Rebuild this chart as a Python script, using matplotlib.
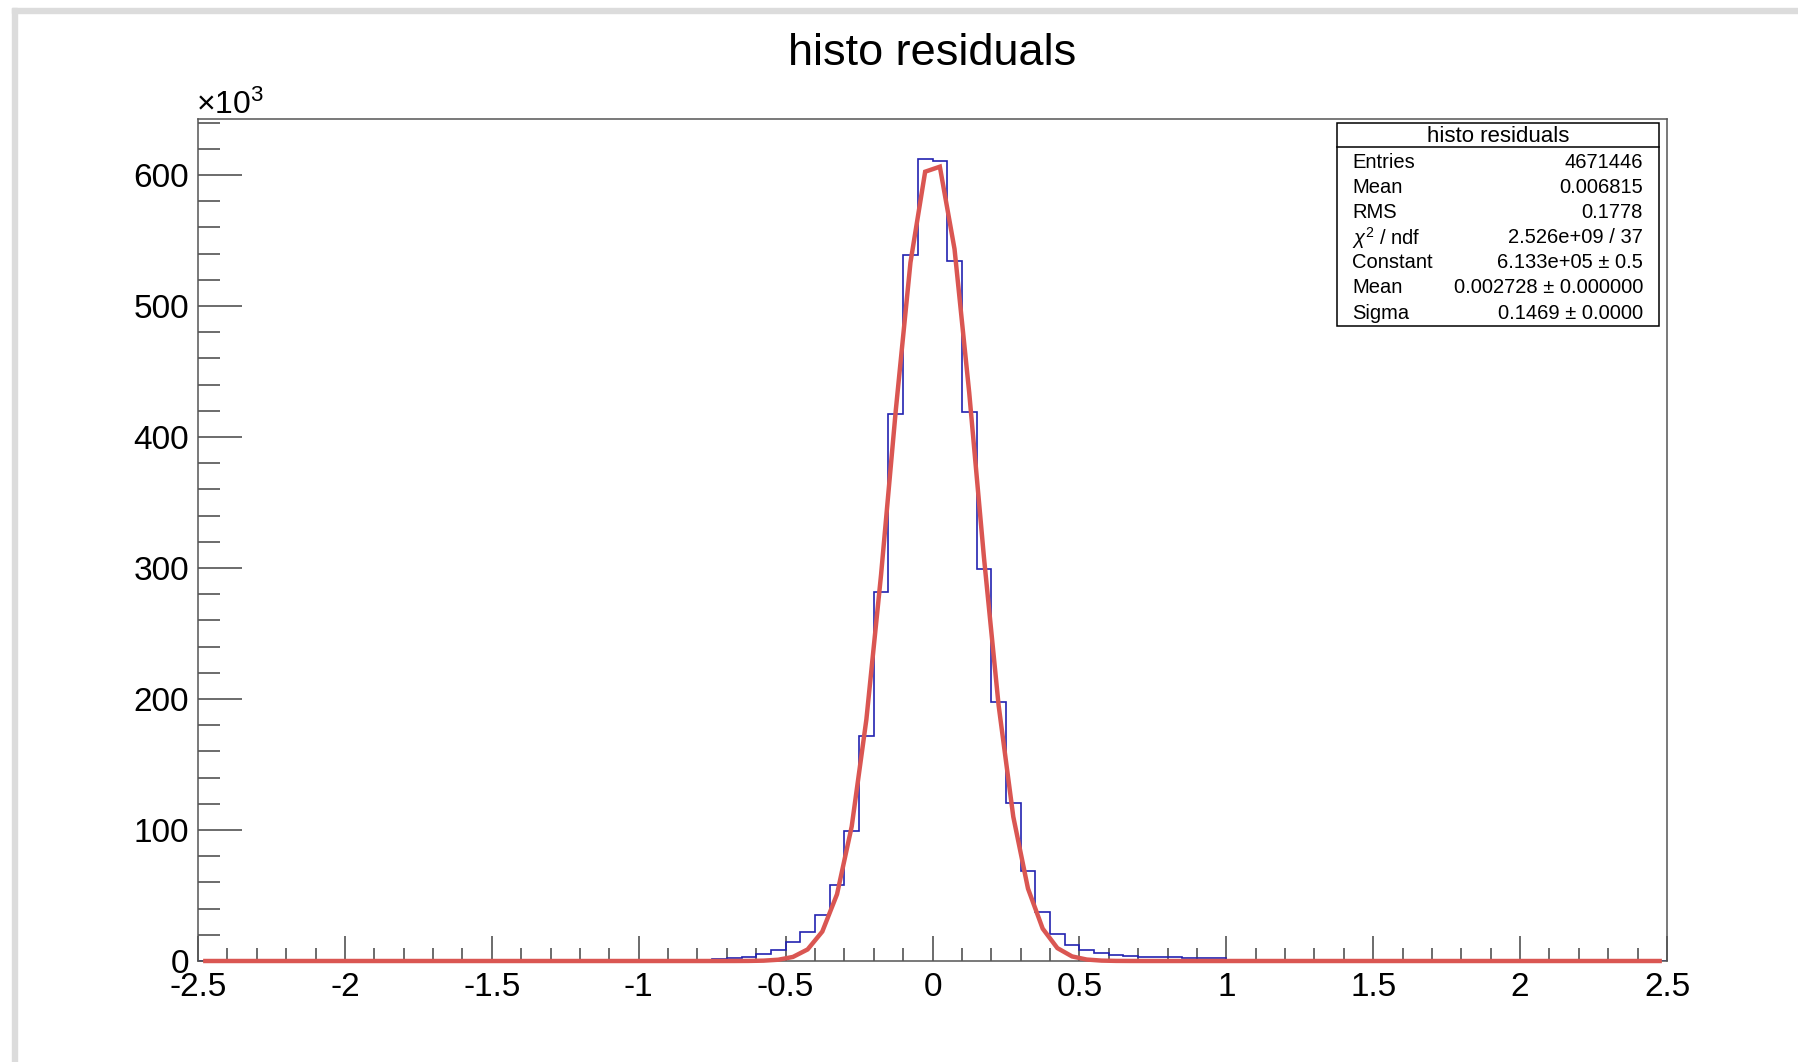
import numpy as np
import matplotlib
matplotlib.use("Agg")
import matplotlib.pyplot as plt
from matplotlib.patches import Rectangle
from matplotlib.lines import Line2D
from matplotlib.ticker import MultipleLocator

plt.rcParams['font.family'] = ['Liberation Sans', 'DejaVu Sans']
plt.rcParams['mathtext.fontset'] = 'custom'
plt.rcParams['mathtext.rm'] = 'Liberation Sans'
plt.rcParams['mathtext.it'] = 'Liberation Sans:italic'

# histogram: 100 bins on [-2.5, 2.5], counts in units of 1e3
x_min, x_max, n_bins = -2.5, 2.5, 100
first_filled_bin = -0.75        # lower edge of the first non-empty bin
counts_k = [1.4, 2.3, 3.3, 5.5, 8.6, 14.3, 22.4, 35.0, 58.0, 99.5,
            172.0, 282.0, 417.5, 539.0, 612.5, 611.0, 534.0, 419.0, 299.0, 198.0,
            120.4, 68.7, 37.2, 20.5, 12.5, 8.4, 6.0, 4.9, 4.0, 3.3,
            3.3, 3.3, 2.5, 2.5, 2.5]

# gaussian fit, parameters from the stats box
fit_constant = 6.133e5
fit_mean = 0.002728
fit_sigma = 0.1469

stat_title = "histo residuals"
stat_labels = ["Entries", "Mean", "RMS", r"$\chi^{2}$ / ndf", "Constant", "Mean", "Sigma"]
stat_values = ["4671446", "0.006815", "0.1778", "2.526e+09 / 37",
               "6.133e+05 \u00b1 0.5", "0.002728 \u00b1 0.000000", "0.1469 \u00b1 0.0000"]

W, H = 1798, 1062
def fx(px):
    return px / W
def fy(py):
    return 1 - py / H

fig = plt.figure(figsize=(W / 100, H / 100), dpi=100)
fig.patch.set_facecolor('white')

# window frame bands
fig.patches.append(Rectangle((fx(12), 0), 5 / W, fy(8), transform=fig.transFigure,
                             color='#dcdcdc', zorder=0))
fig.patches.append(Rectangle((fx(12), fy(13)), 1 - fx(12), 5 / H, transform=fig.transFigure,
                             color='#dcdcdc', zorder=0))

ax = fig.add_axes([fx(198), fy(961), fx(1667) - fx(198), fy(119) - fy(961)])

edges = np.linspace(x_min, x_max, n_bins + 1)
values = np.zeros(n_bins)
start = int(round((first_filled_bin - x_min) / (edges[1] - edges[0])))
values[start:start + len(counts_k)] = counts_k
ax.stairs(values, edges, color='#2222b0', linewidth=1.2, zorder=2)

centers = 0.5 * (edges[:-1] + edges[1:])
fit_k = fit_constant / 1e3 * np.exp(-0.5 * ((centers - fit_mean) / fit_sigma) ** 2)
ax.plot(centers, fit_k, color='#da5652', linewidth=3.2, zorder=3, clip_on=False,
        solid_joinstyle='miter')

ax.set_xlim(x_min, x_max)
ax.set_ylim(0, 642.7)

ax.xaxis.set_major_locator(MultipleLocator(0.5))
ax.xaxis.set_minor_locator(MultipleLocator(0.1))
ax.yaxis.set_major_locator(MultipleLocator(100))
ax.yaxis.set_minor_locator(MultipleLocator(20))
ax.xaxis.set_major_formatter(matplotlib.ticker.FuncFormatter(lambda v, p: "%g" % v))

tick_col = '#444444'
ax.tick_params(axis='x', which='major', direction='in', length=18, width=1.1,
               color=tick_col, labelsize=24, pad=8)
ax.tick_params(axis='x', which='minor', direction='in', length=9.4, width=1.1, color=tick_col)
ax.tick_params(axis='y', which='major', direction='in', length=31.7, width=1.1,
               color=tick_col, labelsize=24, pad=6.5)
ax.tick_params(axis='y', which='minor', direction='in', length=15.8, width=1.1, color=tick_col)
for s in ax.spines.values():
    s.set_color('#555555')
    s.set_linewidth(1.1)

# title and exponent label
fig.text(fx(932.5), fy(65), "histo residuals", ha='center', va='baseline', fontsize=32.5)
fig.text(fx(196), fy(114), r"$\times10^{3}$", ha='left', va='baseline', fontsize=23)

# stats box
bx0, by0, bx1, by1 = 1337, 123, 1659, 326
fig.patches.append(Rectangle((fx(bx0), fy(by1)), fx(bx1) - fx(bx0), fy(by0) - fy(by1),
                             transform=fig.transFigure, facecolor='white',
                             edgecolor='black', linewidth=1.1, zorder=5))
fig.lines.append(Line2D([fx(bx0), fx(bx1)], [fy(147), fy(147)], transform=fig.transFigure,
                        color='black', linewidth=1.1, zorder=6))
fig.text(fx((bx0 + bx1) / 2), fy(136), stat_title, ha='center', va='center',
         fontsize=16, zorder=7)
for i, (lab, val) in enumerate(zip(stat_labels, stat_values)):
    yy = fy(162 + i * 25.2)
    fig.text(fx(1352), yy, lab, ha='left', va='center', fontsize=14.5, zorder=7)
    fig.text(fx(1643), yy, val, ha='right', va='center', fontsize=14.5, zorder=7)

fig.savefig("out.png", dpi=100)
